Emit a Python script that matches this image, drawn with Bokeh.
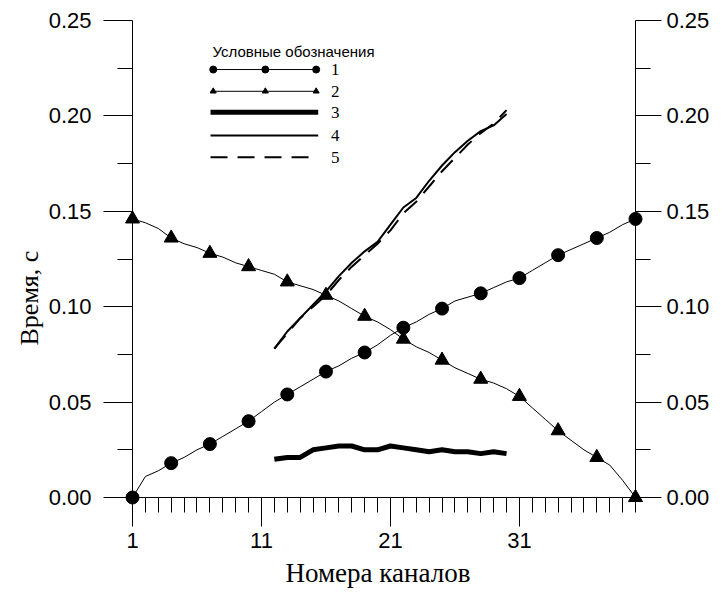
from bokeh.plotting import figure
from bokeh.models import Range1d, LinearAxis, FixedTicker, Label, Title
from bokeh.embed import file_html
from bokeh.resources import INLINE

# ---------------- data ----------------
channels = list(range(1, 41))
series1 = [0.000, 0.011, 0.014, 0.018, 0.021, 0.025, 0.028, 0.032, 0.036, 0.040,
           0.045, 0.050, 0.054, 0.058, 0.062, 0.066, 0.069, 0.073, 0.076, 0.080,
           0.085, 0.089, 0.092, 0.096, 0.099, 0.103, 0.105, 0.107, 0.110, 0.113,
           0.115, 0.119, 0.123, 0.127, 0.130, 0.133, 0.136, 0.139, 0.143, 0.146]
series2 = [0.146, 0.144, 0.141, 0.136, 0.133, 0.131, 0.128, 0.126, 0.123, 0.121,
           0.119, 0.117, 0.113, 0.111, 0.109, 0.106, 0.103, 0.099, 0.095, 0.092,
           0.088, 0.083, 0.079, 0.076, 0.072, 0.068, 0.065, 0.062, 0.060, 0.057,
           0.053, 0.047, 0.041, 0.035, 0.030, 0.025, 0.021, 0.017, 0.009, 0.000]
marker_channels = list(range(1, 41, 3))

channels_b = list(range(12, 31))
series3 = [0.020, 0.021, 0.021, 0.025, 0.026, 0.027, 0.027, 0.025, 0.025, 0.027,
           0.026, 0.025, 0.024, 0.025, 0.024, 0.024, 0.023, 0.024, 0.023]
series4 = [0.078, 0.087, 0.094, 0.101, 0.108, 0.116, 0.123, 0.129, 0.134, 0.143,
           0.152, 0.157, 0.166, 0.174, 0.181, 0.187, 0.192, 0.195, 0.201]
series5 = [0.078, 0.086, 0.094, 0.100, 0.106, 0.114, 0.121, 0.127, 0.133, 0.140,
           0.149, 0.155, 0.163, 0.171, 0.178, 0.185, 0.191, 0.196, 0.203]

x_ticks = [1, 11, 21, 31]
x_tick_labels = ["1", "11", "21", "31"]
x_minor = list(range(1, 41))
y_ticks = [0.0, 0.05, 0.10, 0.15, 0.20, 0.25]
y_tick_labels = ["0.00", "0.05", "0.10", "0.15", "0.20", "0.25"]
y_minor = [0.025, 0.075, 0.125, 0.175, 0.225]

legend_title = "Условные обозначения"
legend_labels = ["1", "2", "3", "4", "5"]
x_title = "Номера каналов"
y_title = "Время, с"

# ---------------- figure ----------------
p = figure(width=724, height=597, output_backend="svg", toolbar_location=None,
           x_range=Range1d(1, 40), y_range=Range1d(0, 0.25),
           min_border_left=132, min_border_right=89, min_border_top=20,
           min_border_bottom=100, outline_line_color=None)
p.grid.visible = False
p.background_fill_color = "white"
p.border_fill_color = "white"

right_axis = LinearAxis()
p.add_layout(right_axis, "right")

ymarks = {t: l for t, l in zip(y_ticks, y_tick_labels)}
for ax in p.yaxis:
    ax.ticker = FixedTicker(ticks=y_ticks, minor_ticks=y_minor)
    ax.major_label_overrides = ymarks
    ax.major_tick_out = 29
    ax.major_tick_in = 0
    ax.minor_tick_out = 15
    ax.minor_tick_in = 0
    ax.major_label_standoff = 12
    ax.major_label_text_font = "Liberation Sans"
    ax.major_label_text_font_size = "22px"
    ax.major_label_text_color = "black"
    ax.axis_line_color = "black"
    ax.major_tick_line_color = "black"
    ax.minor_tick_line_color = "black"

right_axis.major_tick_out = 26
right_axis.major_label_standoff = 5

xa = p.xaxis[0]
xa.ticker = FixedTicker(ticks=x_ticks, minor_ticks=x_minor)
xa.major_label_overrides = {t: l for t, l in zip(x_ticks, x_tick_labels)}
xa.major_tick_out = 29
xa.major_tick_in = 0
xa.minor_tick_out = 15
xa.minor_tick_in = 0
xa.major_label_standoff = 6
xa.major_label_text_font = "Liberation Sans"
xa.major_label_text_font_size = "22px"
xa.major_label_text_color = "black"
xa.axis_line_color = "black"
xa.major_tick_line_color = "black"
xa.minor_tick_line_color = "black"

# axis titles
p.add_layout(Title(text=y_title, align="left", offset=152, standoff=4,
                   text_font="Liberation Serif", text_font_size="26px",
                   text_font_style="normal", text_color="black"), "left")
p.add_layout(Title(text=x_title, align="left", offset=153, standoff=10,
                   text_font="Liberation Serif", text_font_size="27px",
                   text_font_style="normal", text_color="black"), "below")

# ---------------- series ----------------
p.line(channels, series1, line_color="black", line_width=1)
p.line(channels, series2, line_color="black", line_width=1)
p.scatter(marker_channels, [series1[c - 1] for c in marker_channels], marker="circle",
          size=13, fill_color="black", line_color="black", level="overlay")
p.scatter(marker_channels, [series2[c - 1] for c in marker_channels], marker="triangle",
          size=14, fill_color="black", line_color="black", level="overlay")
p.line(channels_b, series3, line_color="black", line_width=5)
p.line(channels_b, series4, line_color="black", line_width=2)
p.line(channels_b, series5, line_color="black", line_width=2, line_dash="17 10")

# ---------------- legend (drawn in plot space) ----------------
lg_x0, lg_x1 = 7.05, 15.4
lg_mx = [7.26, 11.3, 15.24]
lg_lab_x = 16.4
lg_rows = [0.2243, 0.2129, 0.2019, 0.1897, 0.1783]
p.add_layout(Label(x=7.2, y=0.2339, text=legend_title, text_font="Liberation Sans",
                   text_font_size="15px", text_color="black", text_baseline="middle"))
p.line([lg_x0, lg_x1], [lg_rows[0]] * 2, line_color="black", line_width=1)
p.scatter(lg_mx, [lg_rows[0]] * 3, marker="circle", size=7, fill_color="black", line_color="black")
p.line([lg_x0, lg_x1], [lg_rows[1]] * 2, line_color="black", line_width=1)
p.scatter(lg_mx, [lg_rows[1]] * 3, marker="triangle", size=6, fill_color="black", line_color="black")
p.line([lg_x0, lg_x1], [lg_rows[2]] * 2, line_color="black", line_width=5)
p.line([lg_x0, lg_x1], [lg_rows[3]] * 2, line_color="black", line_width=2)
p.line([lg_x0, lg_x1], [lg_rows[4]] * 2, line_color="black", line_width=2, line_dash="17 10")
for r, lab in zip(lg_rows, legend_labels):
    p.add_layout(Label(x=lg_lab_x, y=r, text=lab, text_font="Liberation Serif",
                       text_font_size="17px", text_color="black", text_baseline="middle"))

open("out.html", "w").write(file_html(p, INLINE))
